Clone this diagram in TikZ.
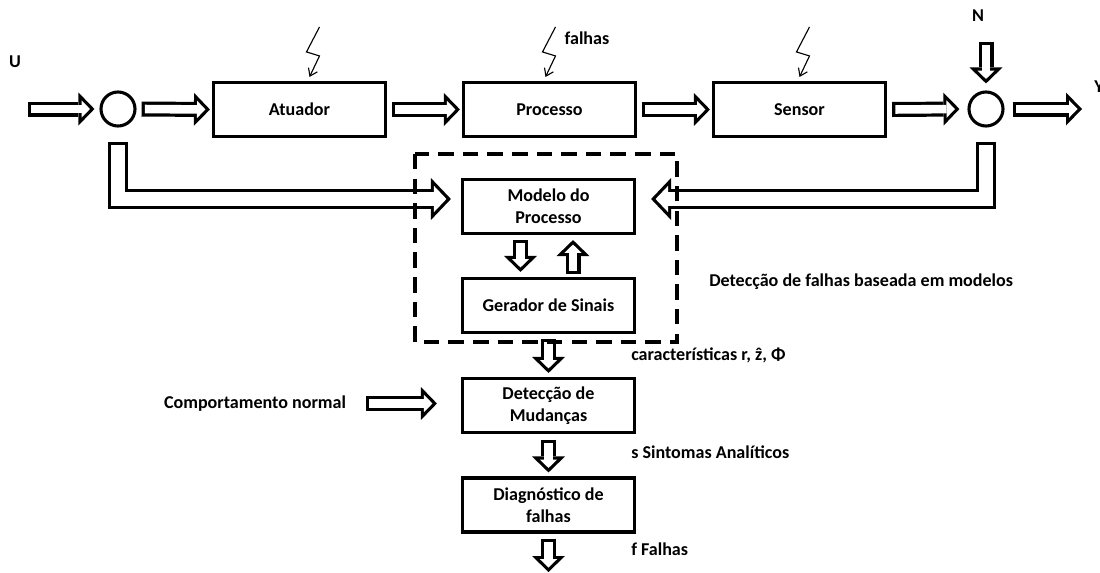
\documentclass[tikz,border=0pt]{standalone}
\usepackage{fontspec}
\setmainfont{Carlito}
\usepackage{tikz}
\usetikzlibrary{arrows.meta,positioning,calc}

\newcommand\lbl{\fontsize{12.85}{15.6}\selectfont\bfseries}

\tikzset{
  bloco/.style={draw, line width=2.2pt, minimum width=4.3cm, minimum height=1.35cm, align=center, font=\lbl},
  soma/.style={draw, circle, line width=2.2pt, minimum size=0.85cm, inner sep=0pt},
  rotulo/.style={font=\lbl, inner sep=0pt},
  oca/.style={line width=10.67pt, line join=miter, -{Triangle[length=11.38pt,width=23.47pt,line width=0pt]},
    postaction={draw, white, line width=6.1pt, shorten <=2.3pt, shorten >=3.2pt,
      -{Triangle[length=6.0pt,width=12.4pt,line width=0pt]}}},
  ocaL/.style={line width=14.23pt, line join=miter, -{Triangle[length=14.23pt,width=29.87pt,line width=0pt]},
    postaction={draw, white, line width=9.7pt, shorten <=2.3pt, shorten >=3.2pt,
      -{Triangle[length=8.9pt,width=18.7pt,line width=0pt]}}},
  raio/.style={line width=0.8pt, -{Straight Barb[length=5pt,width=7pt]}},
  tracejado/.style={line width=2.4pt, dash pattern=on 11pt off 6.5pt},
}

\begin{document}
\begin{tikzpicture}[x=0.025cm, y=-0.025cm]
\useasboundingbox (0,0) rectangle (1100,573);

% Malha principal
\node[soma] (c1) at (118,109) {};
\node[bloco] (atu) at (299.5,109.5) {Atuador};
\node[bloco] (proc) at (549.5,109.5) {Processo};
\node[bloco] (sens) at (799.5,109.5) {Sensor};
\node[soma] (c2) at (986,109) {};
\coordinate (uin) at (28,109);
\coordinate (yout) at (1082,109);
\coordinate (nin) at (986,42);

\draw[oca] (uin) -- ($(c1.west)+(-5,0)$);
\draw[oca] ($(c1.east)+(5,0)$) -- ($(atu.west)+(-2,0)$);
\draw[oca] ($(atu.east)+(5,0)$) -- ($(proc.west)+(-2,0)$);
\draw[oca] ($(proc.east)+(5,0)$) -- ($(sens.west)+(-2,0)$);
\draw[oca] ($(sens.east)+(5,0)$) -- ($(c2.west)+(-8,0)$);
\draw[oca] ($(c2.east)+(8,0)$) -- (yout);
\draw[oca] (nin) -- ($(c2.north)+(0,-7)$);

% Falhas
\foreach \b/\dx in {atu/20, proc/6, sens/10}
  \draw[raio] ($(\b.north)+(\dx,-54)$) -- ++(-13,25) -- ++(13,4) -- ($(\b.north)+(\dx-10,-4)$);

% Deteccao baseada em modelos
\node[bloco] (mod) at (548.5,206.5) {Modelo do\\Processo};
\node[bloco] (ger) at (548.5,305.5) {Gerador de Sinais};
\node[bloco] (mud) at (548.5,405.5) {Detecção de\\Mudanças};
\node[bloco] (diag) at (548.5,505) {Diagnóstico de\\falhas};
\coordinate (fout) at (548.5,572);
\node[rotulo] (normal) at (255,403.5) {Comportamento normal};

\draw[ocaL] ($(c1.south)+(0,14)$) |- ($(mod.west)+(-10,-7.5)$);
\draw[ocaL] ($(c2.south)+(0,14)$) |- ($(mod.east)+(15,-7.5)$);
\draw[oca] ($(mod.south)+(-28,5)$) -- ($(ger.north)+(-28,-5)$);
\draw[oca] ($(ger.north)+(24.5,-3)$) -- ($(mod.south)+(24.5,5)$);
\draw[oca] ($(ger.south)+(0,5)$) -- ($(mud.north)+(0,-4)$);
\draw[oca] ($(mud.south)+(0,5.5)$) -- ($(diag.north)+(0,-4)$);
\draw[oca] ($(diag.south)+(0,5)$) -- (fout);
\draw[oca] ($(normal.east)+(20,0)$) -- ($(mud.west)+(-24,-2)$);

\draw[tracejado] (415,154) rectangle (677,342);

% Rotulos
\node[rotulo] (u) at (15,62) {U};
\node[rotulo] (n) at (978,16) {N};
\node[rotulo, anchor=west] (y) at (1094,87) {Y};
\node[rotulo] (falhas) at (587,38) {falhas};
\node[rotulo, anchor=west] (dfbm) at (709,282) {Detecção de falhas baseada em modelos};
\node[rotulo, anchor=west] (carac) at (631,355) {características r, ẑ, Φ};
\node[rotulo, anchor=west] (sint) at (631,452) {s Sintomas Analíticos};
\node[rotulo, anchor=west] (ff) at (631,549) {f Falhas};
\end{tikzpicture}
\end{document}
